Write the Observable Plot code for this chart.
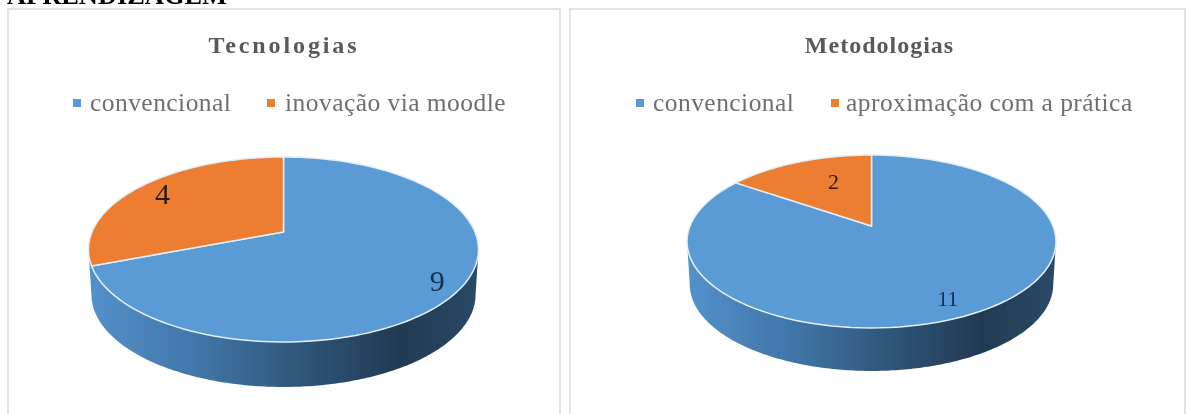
<!DOCTYPE html>
<html lang="pt">
<head>
<meta charset="utf-8">
<script src="https://cdn.jsdelivr.net/npm/d3@7"></script>
<script src="https://cdn.jsdelivr.net/npm/@observablehq/plot@0.6"></script>
<style>
  html,body{margin:0;padding:0;background:#fff;width:1186px;height:414px;overflow:hidden}
  #page{position:relative;width:1186px;height:414px;overflow:hidden;font-family:"Liberation Serif",serif;filter:blur(.45px)}
  .heading{position:absolute;left:7px;top:-15px;font-size:26.4px;font-weight:bold;color:#000;white-space:nowrap;line-height:20px}
  .panel{position:absolute;top:8px;height:430px;box-sizing:border-box;border:2px solid #e2e2e2;background:#fff}
  .panel svg{position:absolute;left:0;top:0;overflow:visible}
  .title{position:absolute;font-weight:bold;color:#595959;font-size:24px;white-space:nowrap;transform:translateX(-50%);line-height:24px}
  .item{position:absolute;color:#6f6f6f;font-size:25.5px;letter-spacing:.45px;white-space:nowrap;line-height:30px}
  .sw{position:absolute;width:8px;height:8px}
</style>
</head>
<body>
<div id="page"><div class="heading">APRENDIZAGEM</div></div>
<script>
const titles = ["Tecnologias", "Metodologias"];
const categoriesA = ["convencional", "inovação via moodle"];
const categoriesB = ["convencional", "aproximação com a prática"];
const valuesA = [9, 4];
const valuesB = [11, 2];
const colors = ["#5b9bd5", "#ed7d31"];
const sideStops = [[0,"#5391cb"],[.3,"#3f74a5"],[.55,"#2f5579"],[.8,"#213a52"],[1,"#2a4a68"]];

// Layout of each panel, in page pixels
const panels = [
  {title:titles[0], cats:categoriesA, vals:valuesA, left:7, width:554, cx:283.5, tipY:232, a:191.5, b:89.2, k:-0.189, depth:45,
   labelR:[.88,.78], labelSize:[30,30], labelDx:[0,-8], labelDy:[0,-2], titleX:284, titleSpacing:"2.9px",
   legend:[{sx:73,tx:90},{sx:267,tx:285}], id:"sideA"},
  {title:titles[1], cats:categoriesB, vals:valuesB, left:569, width:617, cx:871.5, tipY:226, a:181.5, b:83.7, k:-0.179, depth:43,
   labelR:[.84,.62], labelSize:[22,22], labelDx:[-6,9], labelDy:[1,-3], titleX:879.5, titleSpacing:"1px",
   legend:[{sx:636,tx:653},{sx:831,tx:846}], id:"sideB"}
];

function gradient(id){
  return () => {
    const defs = d3.create("svg:defs");
    const g = defs.append("linearGradient").attr("id", id).attr("x1",0).attr("x2",1).attr("y1",0).attr("y2",0);
    sideStops.forEach(([o,c]) => g.append("stop").attr("offset",o).attr("stop-color",c));
    return defs.node();
  };
}

for (const p of panels) {
  const page = document.getElementById("page");
  const panel = page.appendChild(document.createElement("div"));
  panel.className = "panel";
  panel.style.left = p.left + "px";
  panel.style.width = p.width + "px";

  // Projected point of the disc: angle clockwise from the top
  const proj = (t, r = 1) => {
    const x = r * Math.sin(t), y = -r * Math.cos(t), d = 1 + p.k * y;
    return {x: x / d, y: y / d};
  };
  const total = d3.sum(p.vals);
  const tau = 2 * Math.PI;
  // slices run clockwise from 12 o'clock, first value first
  let acc = 0;
  const slices = p.vals.map((v, i) => {
    const t0 = acc / total * tau; acc += v; const t1 = acc / total * tau;
    const n = 120;
    const pts = d3.range(n + 1).map(j => ({...proj(t0 + (t1 - t0) * j / n), cx:0, cy:0}));
    const mid = proj((t0 + t1) / 2, p.labelR[i]);
    return {i, v, pts, mid};
  });

  const t0 = Math.acos(p.k), t1 = tau - t0;
  const side = d3.range(201).map(j => {
    const q = proj(t0 + (t1 - t0) * j / 200);
    return {x:q.x, y:q.y, x2:q.x * .985, y2:q.y + p.depth / p.b};
  });

  const originX = p.left + 2, originY = 10;
  const svg = Plot.plot({
    width: p.width - 4, height: 404, margin: 0,
    x: {axis:null, domain:[-1,1], range:[p.cx - p.a - originX, p.cx + p.a - originX]},
    y: {axis:null, domain:[-1,1], range:[p.tipY - p.b - originY, p.tipY + p.b - originY]},
    marks: [
      gradient(p.id),
      Plot.area(side, {x1:"x", y1:"y", x2:"x2", y2:"y2", fill:`url(#${p.id})`}),
      ...slices.map(s => Plot.area(s.pts, {x1:"x", y1:"y", x2:"cx", y2:"cy", fill:colors[s.i], stroke:"#e3eff9", strokeWidth:1.5, strokeLinejoin:"round"})),
      ...slices.map(s => Plot.text([s], {x:d => d.mid.x, y:d => d.mid.y, dx:p.labelDx[s.i], dy:p.labelDy[s.i], text:d => String(d.v), fontSize:p.labelSize[s.i], fontFamily:"Liberation Serif", fill:s.i === 0 ? "#12304f" : "#2a1a10", textAnchor:"middle", lineAnchor:"middle"}))
    ]
  });
  panel.appendChild(svg);

  const title = panel.appendChild(document.createElement("div"));
  title.className = "title";
  title.textContent = p.title;
  title.style.left = (p.titleX - originX) + "px";
  title.style.top = (33 - originY) + "px";
  title.style.letterSpacing = p.titleSpacing;

  p.cats.forEach((c, i) => {
    const sw = panel.appendChild(document.createElement("div"));
    sw.className = "sw";
    sw.style.background = colors[i];
    sw.style.left = (p.legend[i].sx - originX) + "px";
    sw.style.top = (99 - originY) + "px";
    const it = panel.appendChild(document.createElement("div"));
    it.className = "item";
    it.textContent = c;
    it.style.left = (p.legend[i].tx - originX) + "px";
    it.style.top = (88 - originY) + "px";
  });
}
</script>
</body>
</html>
